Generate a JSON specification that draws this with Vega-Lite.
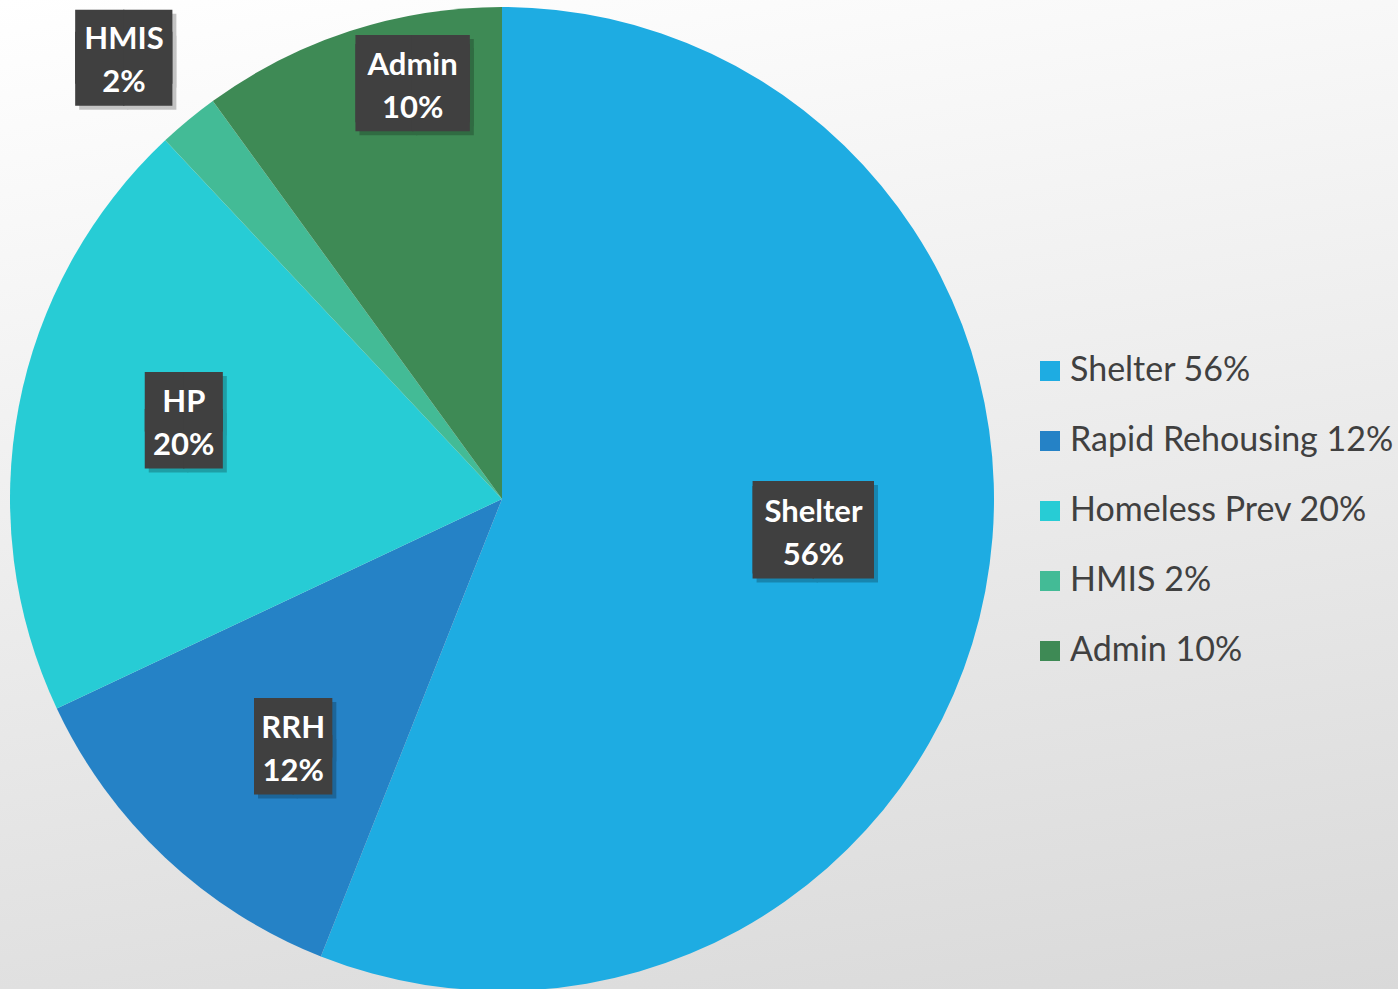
{
  "$schema": "https://vega.github.io/schema/vega-lite/v6.json",
  "padding": 0,
  "spacing": 0,
  "background": "#ebebeb",
  "data": {"values": [
    {"idx": 1, "cat": "Shelter 56%", "label": "Shelter", "lbl": "Shelter\n56%", "value": 56},
    {"idx": 2, "cat": "Rapid Rehousing 12%", "label": "RRH", "lbl": "RRH\n12%", "value": 12},
    {"idx": 3, "cat": "Homeless Prev 20%", "label": "HP", "lbl": "HP\n20%", "value": 20},
    {"idx": 4, "cat": "HMIS 2%", "label": "HMIS", "lbl": "HMIS\n2%", "value": 2},
    {"idx": 5, "cat": "Admin 10%", "label": "Admin", "lbl": "Admin\n10%", "value": 10}
  ]},
  "hconcat": [
    {
      "width": 1004,
      "height": 998,
      "encoding": {
        "theta": {"field": "value", "type": "quantitative", "stack": true},
        "order": {"field": "idx", "type": "quantitative"}
      },
      "layer": [
        {
          "mark": {"type": "rect", "fill": {"gradient": "linear", "x1": 0, "y1": 0, "x2": 0.1969, "y2": 1.2182,
            "stops": [{"offset": 0, "color": "#ffffff"}, {"offset": 1, "color": "#d8d8d8"}]}},
          "encoding": {"theta": null, "order": null}
        },
        {
          "mark": {"type": "arc", "outerRadius": 492, "stroke": null},
          "encoding": {
            "color": {
              "field": "cat", "type": "nominal",
              "sort": ["Shelter 56%", "Rapid Rehousing 12%", "Homeless Prev 20%", "HMIS 2%", "Admin 10%"],
              "scale": {
                "domain": ["Shelter 56%", "Rapid Rehousing 12%", "Homeless Prev 20%", "HMIS 2%", "Admin 10%"],
                "range": ["#1EACE2", "#2582C6", "#27CCD5", "#43BB96", "#3E8A55"]
              },
              "legend": {
                "orient": "none", "legendX": 1033, "legendY": 354,
                "title": null, "symbolType": "square", "symbolSize": 400, "symbolStrokeWidth": 0,
                "labelFont": "Lato", "labelFontSize": 34, "labelColor": "#404040", "labelOffset": 3,
                "labelLimit": 0, "rowPadding": 36, "padding": 0
              }
            }
          }
        },
        {"mark": {"type": "text", "font": "DejaVu Sans", "fontSize": 77.9, "lineHeight": 5, "lineBreak": "\n", "color": "#000000", "opacity": 0.22, "radius": 313, "dx": 8, "dy": -22.4, "baseline": "middle", "align": "center"},
         "encoding": {"text": {"condition": {"test": "datum.label === 'Shelter'", "value": "██\n██"}, "value": ""}}},
        {"mark": {"type": "text", "font": "DejaVu Sans", "fontSize": 77.9, "lineHeight": 5, "lineBreak": "\n", "color": "#404040", "radius": 313, "dx": 4, "dy": -26.4, "baseline": "middle", "align": "center"},
         "encoding": {"text": {"condition": {"test": "datum.label === 'Shelter'", "value": "██\n██"}, "value": ""}}},
        {"mark": {"type": "text", "font": "Lato", "fontWeight": "bold", "fontSize": 31, "lineHeight": 43, "lineBreak": "\n", "color": "#ffffff", "radius": 313, "dx": 4, "dy": -44.5, "baseline": "middle", "align": "center"},
         "encoding": {"text": {"condition": {"test": "datum.label === 'Shelter'", "field": "lbl"}, "value": ""}}},
        {"mark": {"type": "text", "font": "DejaVu Sans", "fontSize": 50.2, "lineHeight": 37.3, "lineBreak": "\n", "color": "#000000", "opacity": 0.22, "radius": 324, "dx": 17, "dy": -1.65, "baseline": "middle", "align": "center"},
         "encoding": {"text": {"condition": {"test": "datum.label === 'RRH'", "value": "██\n██"}, "value": ""}}},
        {"mark": {"type": "text", "font": "DejaVu Sans", "fontSize": 50.2, "lineHeight": 37.3, "lineBreak": "\n", "color": "#404040", "radius": 324, "dx": 13, "dy": -5.65, "baseline": "middle", "align": "center"},
         "encoding": {"text": {"condition": {"test": "datum.label === 'RRH'", "value": "██\n██"}, "value": ""}}},
        {"mark": {"type": "text", "font": "Lato", "fontWeight": "bold", "fontSize": 31, "lineHeight": 43, "lineBreak": "\n", "color": "#ffffff", "radius": 324, "dx": 13, "dy": -6.5, "baseline": "middle", "align": "center"},
         "encoding": {"text": {"condition": {"test": "datum.label === 'RRH'", "field": "lbl"}, "value": ""}}},
        {"mark": {"type": "text", "font": "DejaVu Sans", "fontSize": 50.2, "lineHeight": 37.3, "lineBreak": "\n", "color": "#000000", "opacity": 0.22, "radius": 327, "dx": 7, "dy": -29.65, "baseline": "middle", "align": "center"},
         "encoding": {"text": {"condition": {"test": "datum.label === 'HP'", "value": "██\n██"}, "value": ""}}},
        {"mark": {"type": "text", "font": "DejaVu Sans", "fontSize": 50.2, "lineHeight": 37.3, "lineBreak": "\n", "color": "#404040", "radius": 327, "dx": 3, "dy": -33.65, "baseline": "middle", "align": "center"},
         "encoding": {"text": {"condition": {"test": "datum.label === 'HP'", "value": "██\n██"}, "value": ""}}},
        {"mark": {"type": "text", "font": "Lato", "fontWeight": "bold", "fontSize": 31, "lineHeight": 43, "lineBreak": "\n", "color": "#ffffff", "radius": 327, "dx": 3, "dy": -34.5, "baseline": "middle", "align": "center"},
         "encoding": {"text": {"condition": {"test": "datum.label === 'HP'", "field": "lbl"}, "value": ""}}},
        {"mark": {"type": "text", "font": "DejaVu Sans", "fontSize": 62.4, "lineHeight": 22, "lineBreak": "\n", "color": "#000000", "opacity": 0.22, "radius": 80, "dx": -323, "dy": -384.3, "baseline": "middle", "align": "center"},
         "encoding": {"text": {"condition": {"test": "datum.label === 'HMIS'", "value": "██\n██"}, "value": ""}}},
        {"mark": {"type": "text", "font": "DejaVu Sans", "fontSize": 62.4, "lineHeight": 22, "lineBreak": "\n", "color": "#404040", "radius": 80, "dx": -327, "dy": -388.3, "baseline": "middle", "align": "center"},
         "encoding": {"text": {"condition": {"test": "datum.label === 'HMIS'", "value": "██\n██"}, "value": ""}}},
        {"mark": {"type": "text", "font": "Lato", "fontWeight": "bold", "fontSize": 31, "lineHeight": 43, "lineBreak": "\n", "color": "#ffffff", "radius": 80, "dx": -327, "dy": -397.3, "baseline": "middle", "align": "center"},
         "encoding": {"text": {"condition": {"test": "datum.label === 'HMIS'", "field": "lbl"}, "value": ""}}},
        {"mark": {"type": "text", "font": "DejaVu Sans", "fontSize": 73.4, "lineHeight": 9.1, "lineBreak": "\n", "color": "#000000", "opacity": 0.22, "radius": 425, "dx": 46, "dy": -8.65, "baseline": "middle", "align": "center"},
         "encoding": {"text": {"condition": {"test": "datum.label === 'Admin'", "value": "██\n██"}, "value": ""}}},
        {"mark": {"type": "text", "font": "DejaVu Sans", "fontSize": 73.4, "lineHeight": 9.1, "lineBreak": "\n", "color": "#404040", "radius": 425, "dx": 42, "dy": -12.65, "baseline": "middle", "align": "center"},
         "encoding": {"text": {"condition": {"test": "datum.label === 'Admin'", "value": "██\n██"}, "value": ""}}},
        {"mark": {"type": "text", "font": "Lato", "fontWeight": "bold", "fontSize": 31, "lineHeight": 43, "lineBreak": "\n", "color": "#ffffff", "radius": 425, "dx": 42, "dy": -28.5, "baseline": "middle", "align": "center"},
         "encoding": {"text": {"condition": {"test": "datum.label === 'Admin'", "field": "lbl"}, "value": ""}}}
      ]
    },
    {
      "width": 394,
      "height": 998,
      "mark": {"type": "rect", "fill": {"gradient": "linear", "x1": 0, "y1": -0.1616, "x2": 0.07895, "y2": 1.0834,
        "stops": [{"offset": 0, "color": "#ffffff"}, {"offset": 1, "color": "#d8d8d8"}]}},
      "encoding": {}
    }
  ],
  "config": {
    "view": {"stroke": null},
    "concat": {"spacing": 0}
  }
}
